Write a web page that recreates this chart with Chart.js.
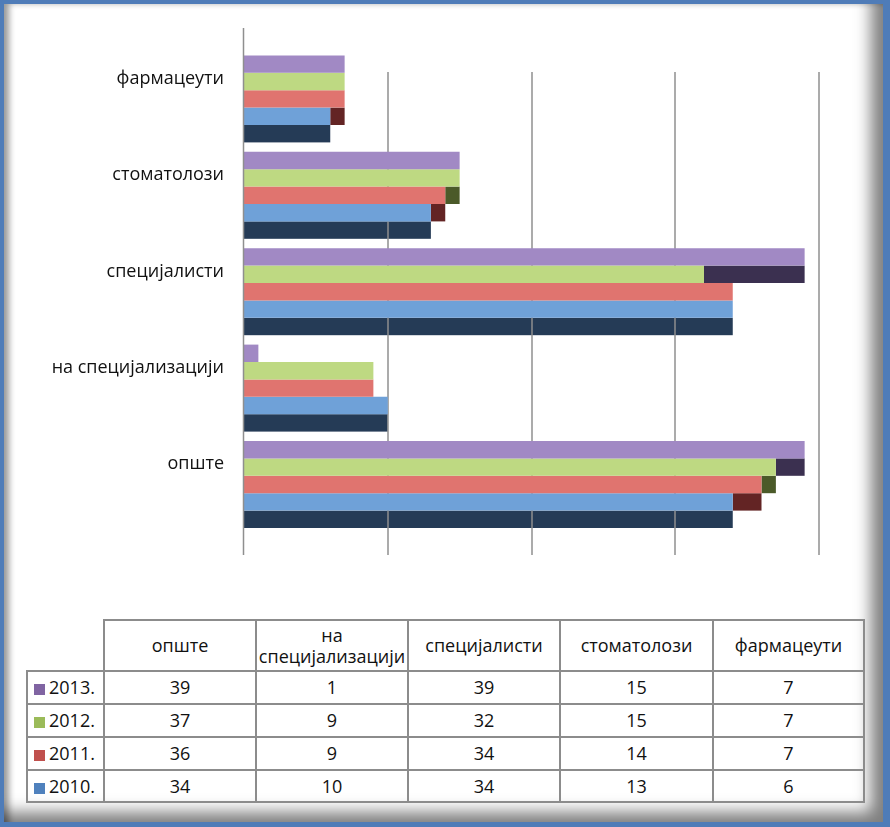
<!DOCTYPE html>
<html><head><meta charset="utf-8">
<script src="https://cdn.jsdelivr.net/npm/chart.js@4.4.1/dist/chart.umd.min.js"></script>
<style>
html,body{margin:0;padding:0;background:#fff;width:890px;height:827px;overflow:hidden;}
#frame{position:absolute;left:0;top:0;width:890px;height:827px;box-sizing:border-box;background:#fff;border-style:solid;border-color:#4f7cb8;border-width:4px 7px 5px 4px;
  box-shadow:inset -24px -22px 16px -12px rgba(0,0,0,0.5), inset 10px 4px 6px -5px rgba(0,0,0,0.4);}
#c{position:absolute;left:0;top:0;}
#tbl{position:absolute;left:26px;top:619px;border-collapse:collapse;table-layout:fixed;font-family:'Open Sans',sans-serif;font-size:18px;color:#111;line-height:21px;}
#tbl td{border:2px solid #8c8c8c;text-align:center;padding:0;white-space:normal;}
#tbl td.empty{border-top:none;border-left:none;}
#tbl td.leg{text-align:left;padding-left:6px;white-space:nowrap;}
.sw{display:inline-block;width:11px;height:11px;margin-right:4px;vertical-align:-1px;}
</style></head>
<body>
<div id="frame"></div>
<canvas id="c" width="890" height="600"></canvas>
<table id="tbl"></table>
<script>
// ---- data ----
const categories = ['опште','на специјализацији','специјалисти','стоматолози','фармацеути'];
const years = ['2013.','2012.','2011.','2010.'];
const v2013 = [39, 1, 39, 15, 7];
const v2012 = [37, 9, 32, 15, 7];
const v2011 = [36, 9, 34, 14, 7];
const v2010 = [34, 10, 34, 13, 6];
const xTicks = [0, 10, 20, 30, 40];

// ---- styles ----
const barColors = ['#a189c4', '#bed982', '#e0746f', '#6fa1d8'];
const legendColors = ['#8064a2', '#9bbb59', '#c0504d', '#4f81bd'];
const sideFaceColors = ['#3b3050', '#4b5a29', '#632424'];
const bottomFaceColor = '#253b56';

const seriesValues = [v2013, v2012, v2011, v2010];

// chart draws top-to-bottom, so reverse category order
const chartLabels = categories.slice().reverse();
const datasets = seriesValues.map((vals, i) => ({
  label: years[i],
  data: vals.slice().reverse(),
  backgroundColor: barColors[i],
  borderWidth: 0,
  categoryPercentage: 0.722,
  barPercentage: 1.0
}));

const depthPlugin = {
  id: 'depth',
  beforeDatasetsDraw(chart) {
    const ctx = chart.ctx, xs = chart.scales.x, area = chart.chartArea;
    const n = chart.data.datasets.length;
    ctx.save();
    // bottom face of the lowest series
    chart.getDatasetMeta(n - 1).data.forEach(el => {
      const p = el.getProps(['x', 'y', 'base', 'height'], true);
      ctx.fillStyle = bottomFaceColor;
      ctx.fillRect(p.base, p.y + p.height / 2, p.x - p.base, p.height);
    });
    // side faces of the series above showing on each row
    for (let i = 1; i < n; i++) {
      const above = chart.data.datasets[i - 1].data;
      chart.getDatasetMeta(i).data.forEach((el, j) => {
        const p = el.getProps(['x', 'y', 'base', 'height'], true);
        const xa = xs.getPixelForValue(above[j]);
        if (xa > p.x) {
          ctx.fillStyle = sideFaceColors[i - 1];
          ctx.fillRect(p.x, p.y - p.height / 2, xa - p.x, p.height);
        }
      });
    }
    // vertical gridlines
    ctx.strokeStyle = '#8f8f8f';
    ctx.lineWidth = 1.5;
    xTicks.forEach(v => {
      if (v === 0) return;
      const x = Math.round(xs.getPixelForValue(v));
      ctx.beginPath();
      ctx.moveTo(x, area.top + 30);
      ctx.lineTo(x, area.bottom + 31);
      ctx.stroke();
    });
    ctx.restore();
  },
  afterDatasetsDraw(chart) {
    const ctx = chart.ctx, xs = chart.scales.x, area = chart.chartArea;
    ctx.save();
    ctx.strokeStyle = '#8f8f8f';
    ctx.lineWidth = 1.5;
    const x = Math.round(xs.getPixelForValue(xTicks[0])) - 0.5;
    ctx.beginPath();
    ctx.moveTo(x, area.top - 14);
    ctx.lineTo(x, area.bottom + 31);
    ctx.stroke();
    ctx.restore();
  }
};

new Chart(document.getElementById('c'), {
  type: 'bar',
  data: { labels: chartLabels, datasets },
  plugins: [depthPlugin],
  options: {
    indexAxis: 'y',
    responsive: false,
    animation: false,
    devicePixelRatio: 1,
    layout: { padding: { left: 0, right: 71, top: 42, bottom: 76 } },
    plugins: { legend: { display: false }, tooltip: { enabled: false } },
    scales: {
      x: {
        display: false,
        min: xTicks[0], max: xTicks[xTicks.length - 1],
        ticks: { stepSize: 10 },
        grid: { display: false }
      },
      y: {
        afterFit(scale) { scale.width = 244; },
        grid: { display: false, drawTicks: false },
        border: { display: false },
        ticks: {
          padding: 20,
          labelOffset: -11.5,
          color: '#111',
          font: { family: "'Open Sans'", size: 18 }
        }
      }
    }
  }
});

// ---- data table ----
const tbl = document.getElementById('tbl');
const colW = [77, 152, 152, 152, 153, 151];
const cg = document.createElement('colgroup');
colW.forEach(w => { const c = document.createElement('col'); c.style.width = w + 'px'; cg.appendChild(c); });
tbl.appendChild(cg);
tbl.style.width = colW.reduce((a, b) => a + b, 0) + 'px';
const hr = document.createElement('tr');
hr.style.height = '51px';
const e = document.createElement('td'); e.className = 'empty'; hr.appendChild(e);
categories.forEach(c => { const td = document.createElement('td'); td.textContent = c; hr.appendChild(td); });
tbl.appendChild(hr);
const rowH = [33, 33, 33, 32];
seriesValues.forEach((vals, i) => {
  const tr = document.createElement('tr');
  tr.style.height = rowH[i] + 'px';
  const lg = document.createElement('td'); lg.className = 'leg';
  const sw = document.createElement('span'); sw.className = 'sw'; sw.style.background = legendColors[i];
  lg.appendChild(sw); lg.appendChild(document.createTextNode(years[i]));
  tr.appendChild(lg);
  vals.forEach(v => { const td = document.createElement('td'); td.textContent = v; tr.appendChild(td); });
  tbl.appendChild(tr);
});
</script>
</body></html>
